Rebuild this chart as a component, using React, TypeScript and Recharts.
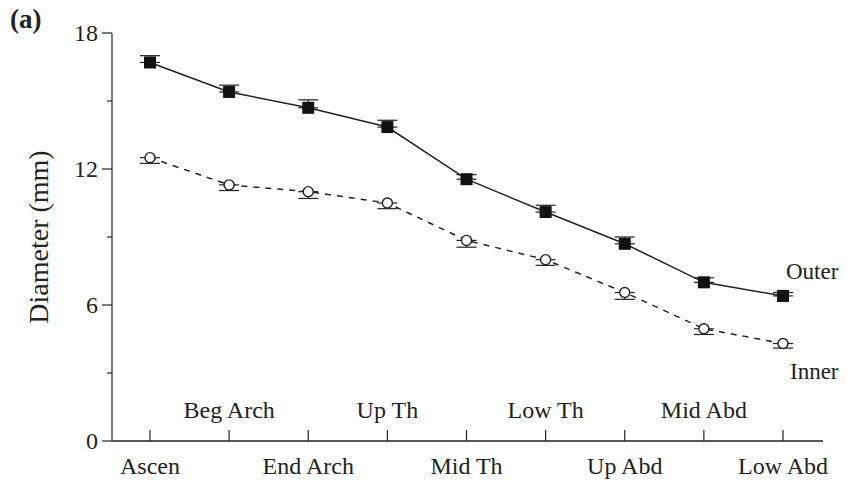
import React from 'react';
import { LineChart, Line, XAxis, YAxis, ErrorBar } from 'recharts';

const segments = ['Ascen', 'Beg Arch', 'End Arch', 'Up Th', 'Mid Th', 'Low Th', 'Up Abd', 'Mid Abd', 'Low Abd'];
const outer = [16.7, 15.4, 14.7, 13.85, 11.55, 10.1, 8.7, 7.0, 6.4];
const outerErr = [0.3, 0.3, 0.35, 0.3, 0.2, 0.3, 0.3, 0.2, 0.15];
const inner = [12.5, 11.3, 11.0, 10.5, 8.85, 8.0, 6.55, 4.95, 4.3];
const innerErr = [0.25, 0.25, 0.3, 0.25, 0.3, 0.25, 0.3, 0.25, 0.2];
const yTicks = [0, 3, 6, 9, 12, 15, 18];

const data = segments.map((name, i) => ({
    name,
    outer: outer[i],
    outerErr: [0, outerErr[i]],
    inner: inner[i],
    innerErr: [innerErr[i], 0],
}));

const FONT = '"Liberation Serif", "DejaVu Serif", serif';
const INK = '#222';

const XTick = (props: any) => {
    const { x, y, payload, index } = props;
    const below = index % 2 === 0;
    return (
        <g>
            <line x1={x} x2={x} y1={y} y2={y - 11} stroke={INK} strokeWidth={1.2} />
            <text x={x} y={below ? y + 33 : y - 23} textAnchor="middle" fontFamily={FONT} fontSize={24} fill={INK}>
                {payload.value}
            </text>
        </g>
    );
};

const YTick = (props: any) => {
    const { x, y, payload } = props;
    const major = payload.value % 6 === 0;
    return (
        <g>
            <line x1={x + (major ? 2 : 7)} x2={x + 12} y1={y} y2={y} stroke={INK} strokeWidth={1.2} />
            {major && (
                <text x={x - 2} y={y + 8} textAnchor="end" fontFamily={FONT} fontSize={24} fill={INK}>
                    {payload.value}
                </text>
            )}
        </g>
    );
};

const Square = (props: any) => {
    const { cx, cy } = props;
    return <rect x={cx - 6} y={cy - 6} width={12} height={12} fill="#111" />;
};

const Circle = (props: any) => {
    const { cx, cy } = props;
    return <circle cx={cx} cy={cy} r={5} fill="#fff" stroke={INK} strokeWidth={1.4} />;
};

const endLabel = (text: string, dx: number, dy: number) => (props: any) => {
    const { x, y, index } = props;
    if (index !== segments.length - 1) return null;
    return (
        <text x={x + dx} y={y + dy} fontFamily={FONT} fontSize={23} fill={INK}>
            {text}
        </text>
    );
};

export default function App() {
    return (
        <div style={{ position: 'absolute', left: 0, top: 0, width: 847, height: 480, background: '#fff' }}>
            <LineChart width={847} height={480} data={data} margin={{ top: 33, right: 24, bottom: 9, left: 0 }}>
                <XAxis
                    dataKey="name"
                    interval={0}
                    tickLine={false}
                    tickSize={0}
                    tickMargin={0}
                    tick={<XTick />}
                    axisLine={{ stroke: INK, strokeWidth: 1.5 }}
                    padding={{ left: 38, right: 40 }}
                />
                <YAxis
                    width={112}
                    domain={[0, 18]}
                    ticks={yTicks}
                    interval={0}
                    tickLine={false}
                    tickSize={10}
                    tickMargin={2}
                    tick={<YTick />}
                    axisLine={{ stroke: '#555', strokeWidth: 1.5 }}
                    label={{
                        value: 'Diameter (mm)',
                        angle: -90,
                        position: 'insideLeft',
                        offset: 38,
                        style: { fontFamily: FONT, fontSize: 28, fill: INK, textAnchor: 'middle' },
                    }}
                />
                {/* error bars first so the markers sit on top of them */}
                <Line dataKey="outer" stroke="none" dot={false} activeDot={false} isAnimationActive={false}>
                    <ErrorBar dataKey="outerErr" direction="y" width={10} stroke={INK} strokeWidth={1.2} />
                </Line>
                <Line dataKey="inner" stroke="none" dot={false} activeDot={false} isAnimationActive={false}>
                    <ErrorBar dataKey="innerErr" direction="y" width={10} stroke={INK} strokeWidth={1.2} />
                </Line>
                <Line
                    dataKey="outer"
                    stroke={INK}
                    strokeWidth={1.5}
                    dot={<Square />}
                    activeDot={false}
                    isAnimationActive={false}
                    label={endLabel('Outer', 3, -17)}
                />
                <Line
                    dataKey="inner"
                    stroke={INK}
                    strokeWidth={1.5}
                    strokeDasharray="6 6"
                    dot={<Circle />}
                    activeDot={false}
                    isAnimationActive={false}
                    label={endLabel('Inner', 7, 35)}
                />
            </LineChart>
            <div style={{ position: 'absolute', left: 10, top: 4, fontFamily: FONT, fontWeight: 'bold', fontSize: 27, color: INK }}>
                (a)
            </div>
        </div>
    );
}
